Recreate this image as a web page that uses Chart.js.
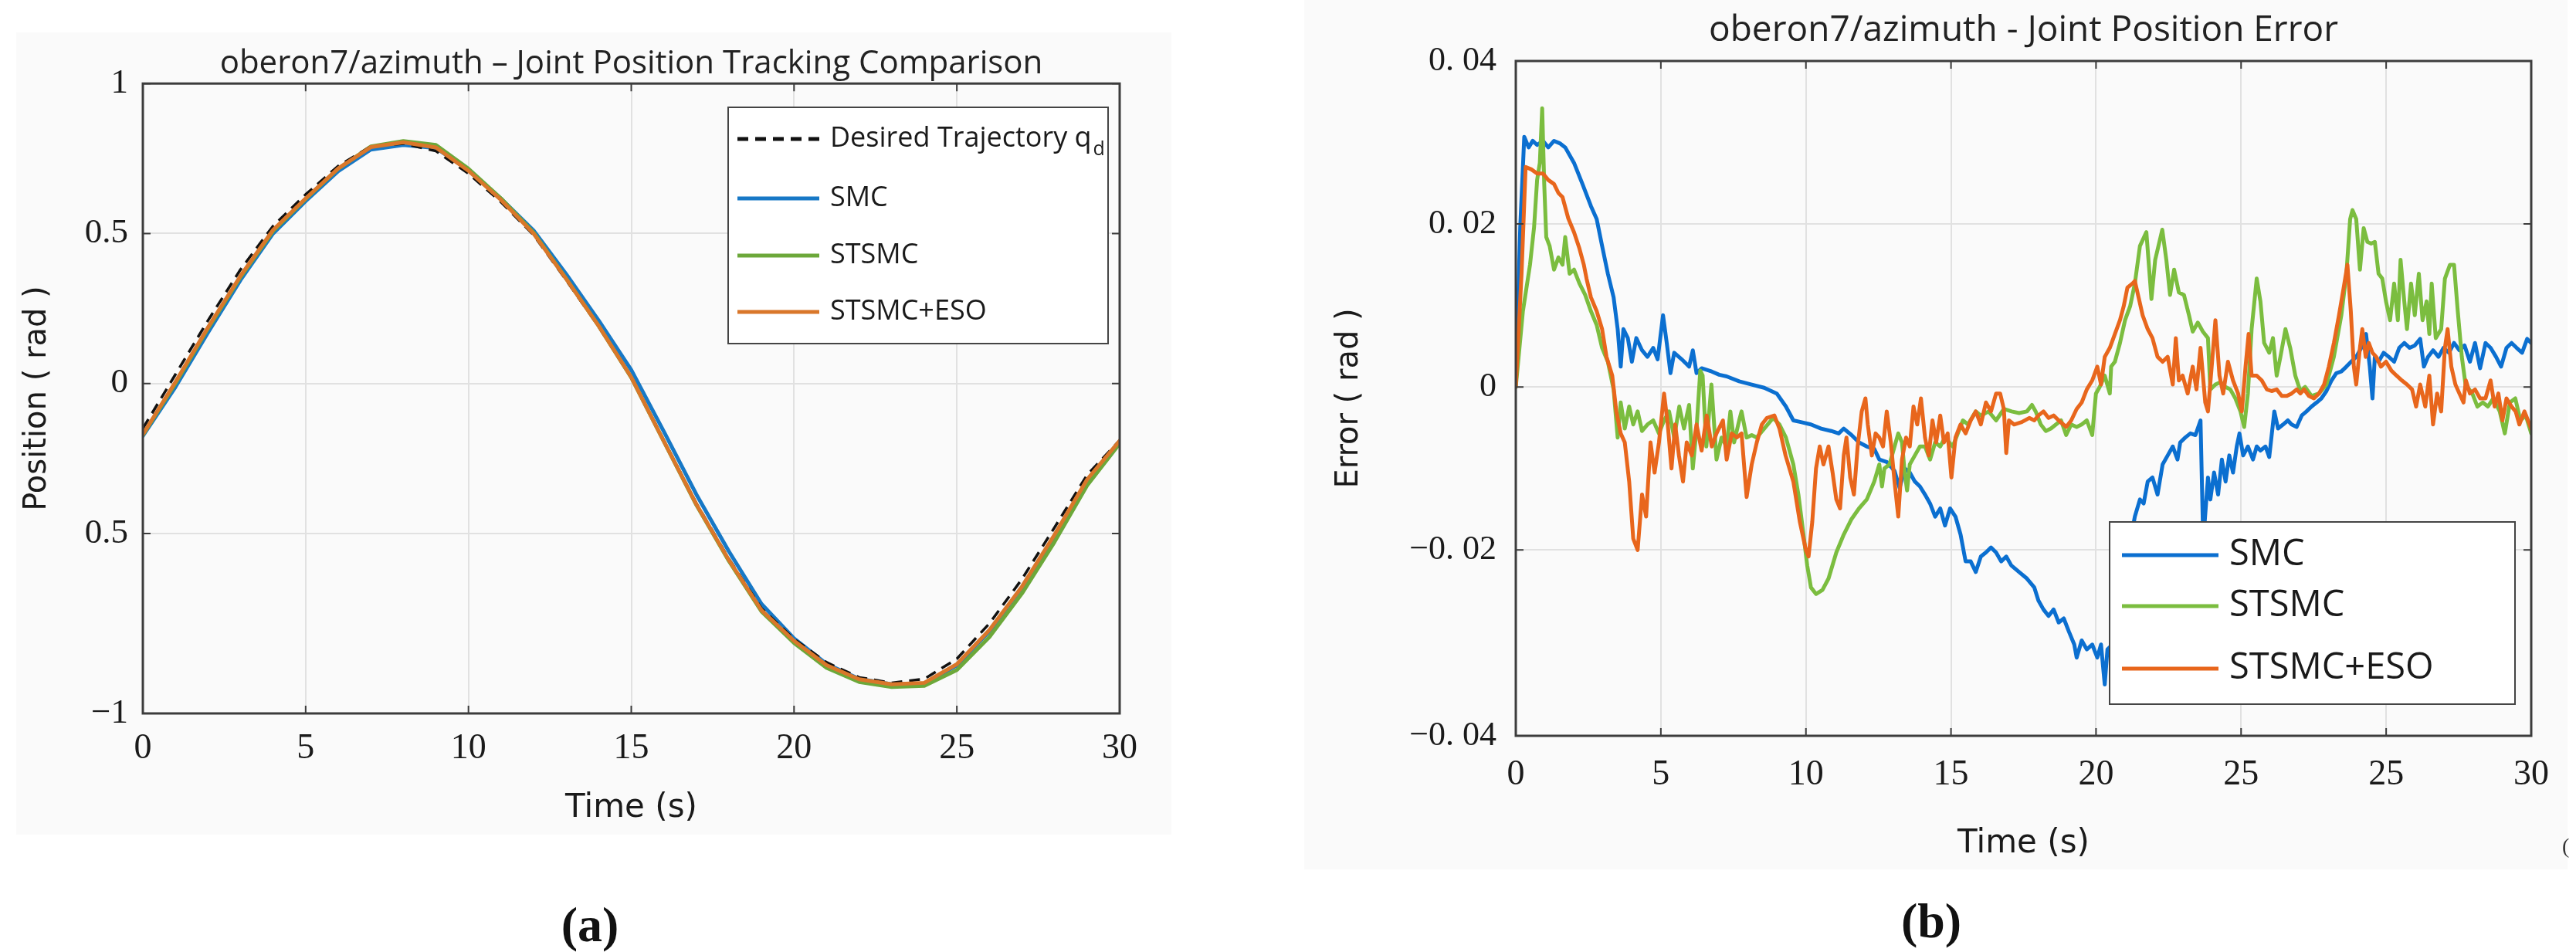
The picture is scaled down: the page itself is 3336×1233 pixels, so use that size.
<!DOCTYPE html>
<html>
<head>
<meta charset="utf-8">
<script src="https://cdn.jsdelivr.net/npm/chart.js@4.4.1/dist/chart.umd.min.js"></script>
<style>
  body { margin: 0; background: #fff; }
  #page { position: relative; width: 3336px; height: 1233px; overflow: hidden; }
  .panel { position: absolute; background: #fafafa; }
  canvas { position: absolute; }
  .cap { position: absolute; font: bold 64px 'Liberation Serif', serif; color: #111; text-align: center; width: 200px; line-height: 80px; }
</style>
</head>
<body>
<div id="page">
  <div class="panel" style="left:21px;top:42px;width:1496px;height:1039px"></div>
  <div class="panel" style="left:1689px;top:0;width:1636px;height:1126px"></div>
  <canvas id="posChart" width="1530" height="1100" style="left:0;top:0"></canvas>
  <canvas id="errChart" width="1646" height="1140" style="left:1690px;top:0"></canvas>
  <div class="cap" style="left:664px;top:1158px">(a)</div>
  <div class="cap" style="left:2401px;top:1153px">(b)</div>
  <div style="position:absolute;left:3318px;top:1080px;font:28px 'Liberation Serif',serif;color:#333">(</div>
</div>
<script>
// (a) joint position
const timeA = [0,1,2,3,4,5,6,7,8,9,10,11,12,13,14,15,16,17,18,19,20,21,22,23,24,25,26,27,28,29,30];
const desiredPos = [-0.15,0.03,0.21,0.38,0.525,0.63,0.725,0.79,0.80,0.775,0.70,0.605,0.495,0.345,0.19,0.02,-0.19,-0.40,-0.585,-0.75,-0.852,-0.93,-0.98,-0.998,-0.985,-0.918,-0.80,-0.652,-0.48,-0.305,-0.19];
const smcPos = [-0.175,-0.012,0.17,0.345,0.50,0.608,0.708,0.78,0.795,0.785,0.712,0.616,0.51,0.365,0.21,0.045,-0.16,-0.37,-0.56,-0.735,-0.85,-0.935,-0.985,-1.003,-1.0,-0.94,-0.826,-0.68,-0.508,-0.325,-0.192];
const stsmcPos = [-0.172,0.0,0.183,0.355,0.508,0.615,0.716,0.79,0.808,0.795,0.716,0.617,0.503,0.35,0.192,0.02,-0.193,-0.405,-0.592,-0.76,-0.865,-0.948,-0.995,-1.012,-1.008,-0.955,-0.845,-0.70,-0.528,-0.34,-0.20];
const esoPos = [-0.17,0.005,0.187,0.359,0.512,0.617,0.717,0.788,0.804,0.787,0.709,0.612,0.50,0.349,0.192,0.021,-0.192,-0.403,-0.589,-0.756,-0.858,-0.939,-0.986,-1.003,-0.998,-0.936,-0.822,-0.677,-0.504,-0.32,-0.191];

// (b) position error, [time, error] pairs
const smcErr = [[0,0],[0.13,0.0195],[0.25,0.0307],[0.38,0.0294],[0.5,0.0302],[0.63,0.0297],[0.8,0.0302],[0.96,0.0294],[1.13,0.0302],[1.3,0.0299],[1.46,0.0294],[1.72,0.0275],[1.97,0.0249],[2.22,0.0222],[2.39,0.0206],[2.55,0.0173],[2.72,0.0139],[2.89,0.011],[3.01,0.0071],[3.1,0.0025],[3.18,0.0071],[3.31,0.006],[3.43,0.0031],[3.56,0.006],[3.73,0.0045],[3.89,0.0037],[4.06,0.0048],[4.19,0.0034],[4.35,0.0088],[4.46,0.0054],[4.57,0.0017],[4.68,0.0042],[4.9,0.0034],[5.12,0.0025],[5.23,0.0045],[5.34,0.0017],[5.49,0.0023],[5.79,0.0019],[6.01,0.0015],[6.23,0.0013],[6.6,0.0007],[6.97,0.0003],[7.34,-0.0001],[7.71,-0.0008],[7.98,-0.0024],[8.2,-0.0041],[8.42,-0.0043],[8.72,-0.0046],[9.02,-0.0051],[9.32,-0.0054],[9.54,-0.0057],[9.69,-0.0051],[9.92,-0.0059],[10.14,-0.0068],[10.37,-0.0073],[10.59,-0.0076],[10.74,-0.0089],[10.96,-0.0092],[11.19,-0.0103],[11.34,-0.0124],[11.49,-0.01],[11.64,-0.0105],[11.79,-0.0116],[11.94,-0.0122],[12.09,-0.0132],[12.24,-0.0143],[12.39,-0.0159],[12.54,-0.0149],[12.68,-0.017],[12.83,-0.0149],[12.99,-0.0159],[13.14,-0.0181],[13.29,-0.0214],[13.44,-0.0214],[13.59,-0.0227],[13.74,-0.0208],[13.89,-0.0203],[14.04,-0.0197],[14.19,-0.0203],[14.34,-0.0214],[14.49,-0.0208],[14.64,-0.0219],[14.87,-0.0227],[15.1,-0.0235],[15.32,-0.0246],[15.44,-0.0262],[15.59,-0.0273],[15.74,-0.0281],[15.89,-0.0273],[16.04,-0.0289],[16.19,-0.0284],[16.34,-0.03],[16.5,-0.0316],[16.57,-0.0332],[16.72,-0.0311],[16.87,-0.0322],[17.03,-0.0316],[17.18,-0.0332],[17.29,-0.0316],[17.4,-0.0365],[17.48,-0.0322],[17.63,-0.0316],[17.7,-0.0305],[17.85,-0.027],[18,-0.023],[18.15,-0.019],[18.29,-0.0159],[18.44,-0.0138],[18.55,-0.0143],[18.67,-0.0116],[18.81,-0.0111],[18.96,-0.0132],[19.11,-0.0095],[19.26,-0.0084],[19.41,-0.0073],[19.55,-0.0089],[19.63,-0.0068],[19.78,-0.0062],[19.93,-0.0057],[20.08,-0.0059],[20.23,-0.0041],[20.31,-0.019],[20.45,-0.0111],[20.52,-0.0138],[20.63,-0.0105],[20.75,-0.0132],[20.86,-0.0089],[20.97,-0.0116],[21.08,-0.0084],[21.19,-0.0105],[21.3,-0.0073],[21.38,-0.0057],[21.49,-0.0084],[21.63,-0.0073],[21.78,-0.0089],[21.89,-0.0073],[22,-0.0078],[22.15,-0.0073],[22.26,-0.0086],[22.41,-0.003],[22.52,-0.0051],[22.67,-0.0046],[22.81,-0.0041],[22.92,-0.0046],[23.07,-0.0049],[23.22,-0.0035],[23.36,-0.003],[23.51,-0.0024],[23.66,-0.0019],[23.8,-0.0014],[23.95,-0.0005],[24.1,0.0008],[24.24,0.0017],[24.39,0.0019],[24.54,0.0025],[24.68,0.0031],[24.83,0.0037],[24.98,0.0048],[25.12,0.0065],[25.23,0.0025],[25.31,-0.0014],[25.38,0.0037],[25.49,0.0031],[25.64,0.0042],[25.79,0.0037],[25.95,0.0031],[26.1,0.0048],[26.25,0.0054],[26.41,0.0048],[26.56,0.0051],[26.72,0.0059],[26.83,0.0025],[26.95,0.0037],[27.1,0.0045],[27.26,0.0037],[27.41,0.0048],[27.57,0.0042],[27.72,0.0054],[27.88,0.0045],[28.03,0.0051],[28.19,0.0031],[28.34,0.0054],[28.49,0.0023],[28.65,0.0054],[28.8,0.0048],[28.96,0.0037],[29.11,0.0025],[29.27,0.0048],[29.42,0.0054],[29.57,0.0048],[29.73,0.0042],[29.88,0.0059],[30,0.0054]];
const stsmcErr = [[0,0],[0.21,0.0093],[0.42,0.015],[0.54,0.0196],[0.63,0.0254],[0.71,0.0275],[0.78,0.0342],[0.84,0.0249],[0.9,0.0184],[1,0.0173],[1.13,0.0144],[1.26,0.0159],[1.38,0.015],[1.46,0.0184],[1.59,0.0139],[1.72,0.0144],[1.88,0.0127],[2.05,0.0113],[2.22,0.0093],[2.39,0.0076],[2.55,0.0048],[2.72,0.0031],[2.89,-0.0003],[3.01,-0.0062],[3.1,-0.0019],[3.22,-0.0051],[3.35,-0.0024],[3.47,-0.0046],[3.6,-0.003],[3.73,-0.0054],[3.89,-0.0046],[4.06,-0.0041],[4.23,-0.0057],[4.38,-0.0041],[4.53,-0.003],[4.68,-0.0062],[4.83,-0.0024],[4.97,-0.0051],[5.12,-0.0022],[5.23,-0.01],[5.34,-0.0051],[5.45,0.002],[5.52,0.0014],[5.63,-0.0073],[5.78,0.0003],[5.93,-0.0089],[6.08,-0.0062],[6.23,-0.0073],[6.34,-0.003],[6.45,-0.0068],[6.6,-0.0041],[6.67,-0.003],[6.82,-0.0062],[6.97,-0.0059],[7.12,-0.0062],[7.34,-0.0051],[7.6,-0.0038],[7.79,-0.0046],[7.98,-0.0062],[8.2,-0.0095],[8.35,-0.0132],[8.5,-0.0181],[8.61,-0.0219],[8.72,-0.0246],[8.87,-0.0254],[9.06,-0.0249],[9.24,-0.0235],[9.47,-0.0203],[9.69,-0.0181],[9.92,-0.0162],[10.14,-0.0149],[10.37,-0.0138],[10.59,-0.0116],[10.74,-0.0095],[10.82,-0.0122],[10.89,-0.01],[11.04,-0.0095],[11.19,-0.0073],[11.3,-0.0057],[11.41,-0.0068],[11.49,-0.0105],[11.56,-0.0127],[11.64,-0.0095],[11.79,-0.0084],[11.94,-0.0073],[12.09,-0.0073],[12.24,-0.0089],[12.39,-0.0068],[12.54,-0.0073],[12.68,-0.0062],[12.91,-0.0073],[13.06,-0.0057],[13.21,-0.0041],[13.36,-0.0046],[13.59,-0.003],[13.74,-0.0035],[13.97,-0.003],[14.19,-0.0041],[14.42,-0.0027],[14.65,-0.003],[14.87,-0.0032],[15.1,-0.003],[15.25,-0.0022],[15.36,-0.003],[15.51,-0.0046],[15.66,-0.0054],[15.81,-0.0051],[15.96,-0.0046],[16.11,-0.0041],[16.26,-0.0059],[16.41,-0.0046],[16.57,-0.0049],[16.72,-0.0046],[16.87,-0.0041],[17.03,-0.0059],[17.14,-0.0008],[17.25,0],[17.4,0.0014],[17.55,-0.0008],[17.59,0.0025],[17.7,0.0031],[17.85,0.0054],[18,0.0082],[18.15,0.0099],[18.29,0.0127],[18.44,0.0173],[18.63,0.019],[18.78,0.0108],[18.89,0.0156],[19.1,0.0193],[19.22,0.0156],[19.33,0.0113],[19.45,0.0144],[19.59,0.0116],[19.74,0.0113],[19.89,0.0088],[20,0.0068],[20.15,0.0079],[20.3,0.0068],[20.45,0.006],[20.52,-0.0003],[20.67,0.0003],[20.82,0.0006],[20.97,0],[21.11,-0.0003],[21.26,-0.0014],[21.41,-0.003],[21.52,-0.0049],[21.63,-0.0008],[21.74,0.0071],[21.89,0.0133],[22,0.0105],[22.11,0.0054],[22.26,0.0042],[22.37,0.006],[22.48,0.0014],[22.59,0.0037],[22.74,0.0071],[22.88,0.0048],[23.03,0.0014],[23.18,-0.0005],[23.32,0],[23.51,-0.0011],[23.73,-0.0008],[23.95,0.0003],[24.17,0.0037],[24.39,0.0088],[24.54,0.0139],[24.65,0.0206],[24.72,0.0217],[24.83,0.0206],[24.94,0.0144],[25.05,0.0195],[25.16,0.0178],[25.27,0.0176],[25.38,0.0178],[25.49,0.0139],[25.6,0.0133],[25.71,0.0105],[25.83,0.0082],[25.95,0.0127],[26.06,0.0082],[26.14,0.0156],[26.25,0.0105],[26.33,0.0071],[26.45,0.0127],[26.56,0.0088],[26.68,0.0139],[26.79,0.0082],[26.91,0.0105],[26.99,0.0065],[27.06,0.0127],[27.18,0.006],[27.34,0.0071],[27.45,0.0133],[27.6,0.015],[27.72,0.015],[27.83,0.0093],[27.95,0.0037],[28.06,0.0003],[28.26,-0.0008],[28.41,-0.0024],[28.57,-0.0019],[28.72,-0.0024],[28.88,-0.0014],[29.07,-0.003],[29.22,-0.0057],[29.37,-0.0019],[29.53,-0.0014],[29.68,-0.0041],[29.84,-0.0035],[30,-0.0057]];
const esoErr = [[0,0],[0.17,0.0139],[0.29,0.027],[0.46,0.0267],[0.63,0.0262],[0.8,0.0262],[0.96,0.0254],[1.13,0.0249],[1.26,0.0238],[1.38,0.0233],[1.55,0.0207],[1.72,0.019],[1.88,0.017],[2.01,0.015],[2.09,0.0133],[2.22,0.011],[2.39,0.0093],[2.55,0.0071],[2.68,0.0037],[2.85,0.0014],[2.97,-0.003],[3.1,-0.0057],[3.22,-0.0068],[3.35,-0.0116],[3.47,-0.0186],[3.6,-0.02],[3.73,-0.0132],[3.85,-0.0159],[3.98,-0.0068],[4.1,-0.0105],[4.23,-0.0068],[4.38,-0.0008],[4.49,-0.0046],[4.6,-0.01],[4.71,-0.0046],[4.82,-0.0084],[4.94,-0.0116],[5.05,-0.0068],[5.2,-0.0084],[5.34,-0.0046],[5.49,-0.0078],[5.64,-0.0035],[5.79,-0.0073],[5.93,-0.0057],[6.12,-0.0041],[6.23,-0.0089],[6.38,-0.0057],[6.53,-0.0062],[6.67,-0.0057],[6.82,-0.0135],[6.97,-0.0095],[7.12,-0.0068],[7.27,-0.0046],[7.42,-0.0038],[7.64,-0.0035],[7.79,-0.0051],[7.97,-0.0084],[8.2,-0.0116],[8.39,-0.0165],[8.57,-0.02],[8.65,-0.0208],[8.76,-0.0165],[8.87,-0.01],[8.98,-0.0073],[9.09,-0.0095],[9.24,-0.0073],[9.36,-0.0105],[9.47,-0.0138],[9.58,-0.0149],[9.69,-0.0084],[9.77,-0.0062],[9.88,-0.0111],[9.99,-0.0132],[10.1,-0.0073],[10.22,-0.003],[10.33,-0.0014],[10.4,-0.0046],[10.52,-0.0084],[10.63,-0.0057],[10.74,-0.0062],[10.85,-0.0073],[10.96,-0.003],[11.08,-0.0068],[11.19,-0.0116],[11.3,-0.0159],[11.41,-0.0089],[11.53,-0.0062],[11.64,-0.0073],[11.75,-0.0024],[11.86,-0.0046],[11.97,-0.0014],[12.09,-0.0062],[12.2,-0.0084],[12.31,-0.0041],[12.42,-0.0068],[12.54,-0.0035],[12.65,-0.0068],[12.76,-0.0057],[12.87,-0.0111],[12.99,-0.0062],[13.14,-0.0046],[13.29,-0.0057],[13.44,-0.0041],[13.59,-0.003],[13.74,-0.0046],[13.89,-0.0019],[14.04,-0.003],[14.19,-0.0008],[14.31,-0.0008],[14.42,-0.0027],[14.49,-0.0081],[14.57,-0.0041],[14.72,-0.0046],[14.95,-0.0043],[15.17,-0.0038],[15.32,-0.0041],[15.44,-0.0035],[15.59,-0.003],[15.74,-0.0038],[15.89,-0.0035],[16.04,-0.0041],[16.26,-0.0049],[16.41,-0.0041],[16.57,-0.0027],[16.72,-0.0019],[16.87,-0.0003],[17.03,0.0008],[17.18,0.0025],[17.29,0.0003],[17.4,0.0037],[17.55,0.0048],[17.7,0.0065],[17.85,0.0082],[17.96,0.0099],[18.07,0.0122],[18.22,0.0127],[18.29,0.013],[18.4,0.011],[18.52,0.0088],[18.67,0.0071],[18.81,0.006],[18.96,0.0037],[19.11,0.0031],[19.26,0.0037],[19.41,0.0003],[19.5,0.006],[19.59,0.0008],[19.7,0.0014],[19.85,-0.0008],[20,0.0025],[20.11,-0.0003],[20.23,0.0048],[20.37,-0.0019],[20.45,-0.003],[20.56,0.0025],[20.67,0.0082],[20.79,0.0014],[20.9,-0.0008],[21.04,0.0031],[21.19,0.0008],[21.34,-0.0008],[21.45,-0.003],[21.56,0.0025],[21.65,0.0065],[21.74,0.0014],[21.89,0.0014],[22.04,0.0008],[22.19,-0.0003],[22.33,-0.0005],[22.48,-0.0003],[22.63,-0.0011],[22.78,-0.0011],[22.92,-0.0008],[23.07,-0.0003],[23.18,-0.0008],[23.29,-0.0003],[23.43,-0.0011],[23.58,-0.0014],[23.73,-0.0008],[23.88,0.0003],[24.02,0.0025],[24.17,0.0054],[24.32,0.0088],[24.46,0.0122],[24.57,0.015],[24.67,0.0093],[24.76,0.0025],[24.83,0.0003],[24.94,0.0048],[25.01,0.0071],[25.11,0.0037],[25.2,0.0054],[25.31,0.0042],[25.42,0.0037],[25.56,0.0025],[25.71,0.0031],[25.87,0.002],[26.02,0.0014],[26.18,0.0008],[26.33,0.0003],[26.48,-0.0003],[26.6,-0.0024],[26.72,0.0003],[26.87,-0.0024],[26.99,0.0014],[27.1,-0.0046],[27.22,-0.0008],[27.34,-0.003],[27.45,0.0048],[27.53,0.0071],[27.64,0.0025],[27.76,0.0003],[27.88,-0.0008],[28,-0.0019],[28.07,0.0008],[28.19,-0.0008],[28.34,-0.0003],[28.49,-0.0014],[28.65,-0.0014],[28.8,0.0008],[28.92,-0.0024],[29.03,-0.0008],[29.15,-0.0041],[29.27,-0.0014],[29.42,-0.0024],[29.54,-0.003],[29.65,-0.0046],[29.8,-0.003],[30,-0.0051]];

// tick values and the labels printed beside them
const xTicksA = [0,5,10,15,20,25,30];
const yTicksA = [-1.1,-0.5,0,0.5,1];
const yLabelsA = ['−1','0.5','0','0.5','1'];
const xLabelsB = ['0','5','10','15','20','25','25','30'];
const yTicksB = [-0.0428,-0.02,0,0.02,0.04];
const yLabelsB = ['−0. 04','−0. 02','0','0. 02','0. 04'];

// legend boxes, in canvas pixels
const legendLayout = {
  posChart: { box: [943,139,492,306], rows: [180,257,331,404], lineX: [955,1061], textX: 1075,
              font: "36px 'Open Sans', sans-serif", subFont: "25px 'Open Sans', sans-serif", items: [2,0,1,3] },
  errChart: { box: [1042,676,525,236], rows: [719,785,866], lineX: [1058,1183], textX: 1197,
              font: "47px 'Open Sans', sans-serif", items: [0,1,2] }
};

const frameAndLegend = {
  id: 'frameAndLegend',
  afterDatasetsDraw(chart) {
    const { ctx, chartArea: a, scales } = chart;
    const L = legendLayout[chart.canvas.id];
    ctx.save();
    // inward tick marks + box
    ctx.strokeStyle = '#3c3c3c';
    ctx.lineWidth = 2;
    ctx.beginPath();
    scales.x.ticks.forEach(t => {
      const px = scales.x.getPixelForValue(t.value);
      ctx.moveTo(px, a.bottom); ctx.lineTo(px, a.bottom - 10);
      ctx.moveTo(px, a.top); ctx.lineTo(px, a.top + 10);
    });
    scales.y.ticks.forEach(t => {
      const py = scales.y.getPixelForValue(t.value);
      ctx.moveTo(a.left, py); ctx.lineTo(a.left + 10, py);
      ctx.moveTo(a.right, py); ctx.lineTo(a.right - 10, py);
    });
    ctx.stroke();
    ctx.lineWidth = 3;
    ctx.strokeRect(a.left, a.top, a.right - a.left, a.bottom - a.top);

    // legend
    const [bx, by, bw, bh] = L.box;
    ctx.fillStyle = '#fff';
    ctx.fillRect(bx, by, bw, bh);
    ctx.lineWidth = 2;
    ctx.strokeStyle = '#444';
    ctx.strokeRect(bx, by, bw, bh);
    ctx.textBaseline = 'middle';
    L.items.forEach((idx, k) => {
      const ds = chart.data.datasets[idx];
      const y = L.rows[k];
      ctx.beginPath();
      ctx.setLineDash(ds.borderDash || []);
      ctx.strokeStyle = ds.borderColor;
      ctx.lineWidth = 5;
      ctx.moveTo(L.lineX[0], y);
      ctx.lineTo(L.lineX[1], y);
      ctx.stroke();
      ctx.setLineDash([]);
      const [main, sub] = ds.label.split('_');
      ctx.fillStyle = '#1a1a1a';
      ctx.font = L.font;
      ctx.fillText(main, L.textX, y);
      if (sub) {
        const w = ctx.measureText(main).width;
        ctx.font = L.subFont;
        ctx.fillText(sub, L.textX + w + 2, y + 14);
      }
    });
    ctx.restore();
  }
};

const line = (label, color, pts, extra) => Object.assign({
  label, data: pts, borderColor: color, backgroundColor: color,
  borderWidth: 5, pointRadius: 0, tension: 0, fill: false,
  borderJoinStyle: 'round', borderCapStyle: 'round'
}, extra);

const tickFont = size => ({ family: "'Liberation Serif', serif", size });
const labelFont = { family: "'DejaVu Sans', sans-serif", size: 40 };
const gridStyle = { color: '#e1e1e1', lineWidth: 2, drawTicks: false };

// (a) tracking comparison
new Chart(document.getElementById('posChart'), {
  type: 'line',
  data: {
    datasets: [
      line('SMC', '#1778c6', timeA.map((t, i) => ({ x: t, y: smcPos[i] })), { order: 4 }),
      line('STSMC', '#6ca83a', timeA.map((t, i) => ({ x: t, y: stsmcPos[i] })), { order: 3 }),
      line('Desired Trajectory q_d', '#111', timeA.map((t, i) => ({ x: t, y: desiredPos[i] })),
           { order: 2, borderWidth: 3.5, borderDash: [14, 9], borderCapStyle: 'butt' }),
      line('STSMC+ESO', '#d9772a', timeA.map((t, i) => ({ x: t, y: esoPos[i] })), { order: 1 })
    ]
  },
  options: {
    responsive: false,
    animation: false,
    devicePixelRatio: 1,
    layout: { padding: { left: 0, right: 80, top: 0, bottom: 0 } },
    plugins: {
      legend: { display: false },
      tooltip: { enabled: false },
      title: {
        display: true, fullSize: false,
        text: 'oberon7/azimuth – Joint Position Tracking Comparison',
        color: '#222', font: { family: "'Open Sans', sans-serif", size: 42, weight: 'normal' },
        padding: { top: 57.8, bottom: 0 }
      }
    },
    scales: {
      x: {
        type: 'linear', min: 0, max: 30,
        afterBuildTicks: s => { s.ticks = xTicksA.map(v => ({ value: v })); },
        afterFit: s => { s.height = 176; },
        ticks: { font: tickFont(46), color: '#1a1a1a', padding: 18, autoSkip: false, maxRotation: 0 },
        grid: gridStyle, border: { display: false },
        title: { display: true, text: 'Time (s)', font: { family: "'DejaVu Sans', sans-serif", size: 42 }, color: '#1a1a1a', padding: { top: 0, bottom: 28 } }
      },
      y: {
        type: 'linear', min: -1.1, max: 1,
        afterBuildTicks: s => { s.ticks = yTicksA.map(v => ({ value: v })); },
        afterFit: s => { s.width = 185; },
        ticks: { font: tickFont(45), color: '#1a1a1a', padding: 19, callback: (v, i) => yLabelsA[i] },
        grid: gridStyle, border: { display: false },
        title: { display: true, text: 'Position ( rad )', font: labelFont, color: '#1a1a1a', padding: { top: 25, bottom: 0 } }
      }
    }
  },
  plugins: [frameAndLegend]
});

// (b) position error
const xTicksB = xLabelsB.map((_, i) => i * 30 / 7);
new Chart(document.getElementById('errChart'), {
  type: 'line',
  data: {
    datasets: [
      line('SMC', '#0b6fd0', smcErr.map(([t, e]) => ({ x: t, y: e })), { order: 3 }),
      line('STSMC', '#7bbd3f', stsmcErr.map(([t, e]) => ({ x: t, y: e })), { order: 2 }),
      line('STSMC+ESO', '#e8661c', esoErr.map(([t, e]) => ({ x: t, y: e })), { order: 1 })
    ]
  },
  options: {
    responsive: false,
    animation: false,
    devicePixelRatio: 1,
    layout: { padding: { left: 0, right: 58, top: 0, bottom: 0 } },
    plugins: {
      legend: { display: false },
      tooltip: { enabled: false },
      title: {
        display: true, fullSize: false,
        text: 'oberon7/azimuth - Joint Position Error',
        color: '#222', font: { family: "'Open Sans', sans-serif", size: 46, weight: 'normal' },
        padding: { top: 12.4, bottom: 11.4 }
      }
    },
    scales: {
      x: {
        type: 'linear', min: 0, max: 30,
        afterBuildTicks: s => { s.ticks = xTicksB.map(v => ({ value: v })); },
        afterFit: s => { s.height = 187; },
        ticks: { font: tickFont(46), color: '#1a1a1a', padding: 23, autoSkip: false, maxRotation: 0, callback: (v, i) => xLabelsB[i] },
        grid: gridStyle, border: { display: false },
        title: { display: true, text: 'Time (s)', font: { family: "'DejaVu Sans', sans-serif", size: 42 }, color: '#1a1a1a', padding: { top: 0, bottom: 22 } }
      },
      y: {
        type: 'linear', min: -0.0428, max: 0.04,
        afterBuildTicks: s => { s.ticks = yTicksB.map(v => ({ value: v })); },
        afterFit: s => { s.width = 273; },
        ticks: { font: tickFont(44), color: '#1a1a1a', padding: 25, callback: (v, i) => yLabelsB[i] },
        grid: gridStyle, border: { display: false },
        title: { display: true, text: 'Error ( rad )', font: labelFont, color: '#1a1a1a', padding: { top: 34, bottom: 0 } }
      }
    }
  },
  plugins: [frameAndLegend]
});
</script>
</body>
</html>
